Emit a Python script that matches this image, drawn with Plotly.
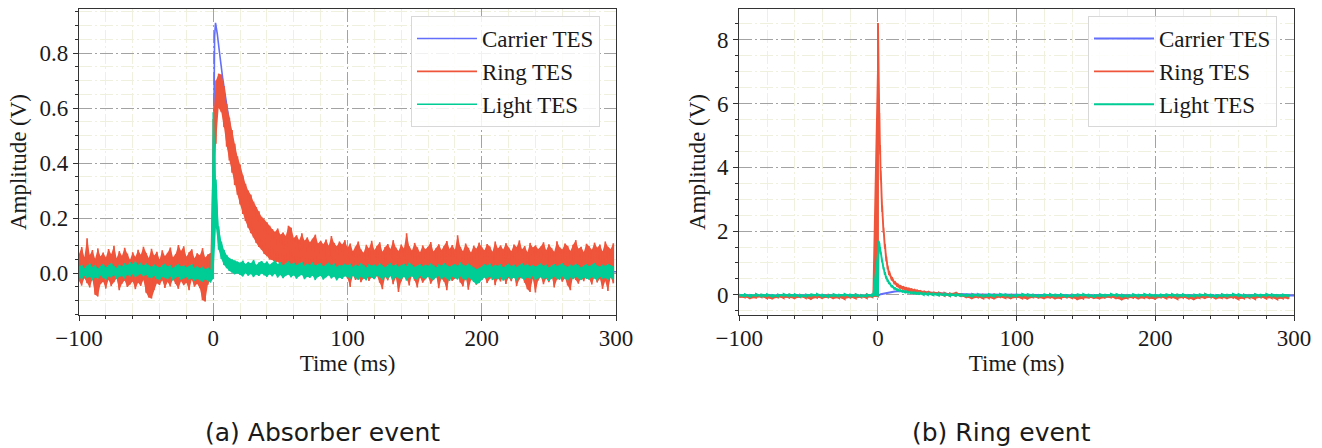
import numpy as np
import plotly.graph_objects as go

# ---------------------------------------------------------------------------
# Pulse traces, stored as per-bin minimum / maximum of the digitised signal.
# Panel (a): absorber event, 2 ms bins from -100 ms to 298 ms, values in mV.
# ---------------------------------------------------------------------------
A_BIN_START, A_BIN_STOP, A_BIN_MS = -100, 300, 2

ring_a_hi_mv = [
    70, 95, 58, 127, 66, 84, 52, 90, 61, 75,
    57, 88, 69, 100, 54, 80, 63, 92, 71, 49,
    76, 59, 85, 67, 96, 72, 55, 89, 64, 78,
    50, 83, 62, 74, 93, 58, 70, 102, 81, 98,
    60, 76, 87, 54, 72, 65, 91, 57, 68, 73,
    560, 700, 725, 722, 680, 615, 565, 520, 470, 425,
    395, 355, 325, 300, 285, 260, 240, 225, 205, 195,
    185, 172, 160, 150, 162, 140, 148, 135, 172, 165,
    128, 138, 120, 145, 118, 130, 112, 125, 140, 108,
    118, 105, 122, 100, 135, 110, 98, 115, 104, 120,
    92, 108, 80, 97, 115, 86, 74, 103, 90, 118,
    84, 99, 112, 78, 95, 106, 88, 120, 93, 81,
    104, 90, 145, 98, 82, 110, 94, 76, 101, 87,
    96, 113, 79, 91, 105, 84, 99, 117, 88, 102,
    85, 138, 96, 80, 108, 92, 75, 100, 89, 111,
    94, 83, 106, 97, 78, 115, 90, 101, 86, 109,
    92, 80, 104, 95, 119, 87, 99, 76, 110, 93,
    101, 88, 97, 112, 83, 105, 91, 78, 116, 94,
    86, 108, 99, 81, 103, 120, 89, 96, 77, 107,
    98, 85, 111, 92, 104, 79, 115, 96, 88, 109,
]
ring_a_lo_mv = [
    -28, -45, -18, -36, -52, -22, -78, -85, -40, -31,
    -56, -24, -47, -33, -19, -62, -38, -27, -50, -41,
    -30, -58, -35, -46, -25, -71, -88, -92, -60, -37,
    -43, -26, -54, -32, -48, -21, -39, -57, -29, -44,
    -35, -62, -24, -49, -38, -55, -98, -103, -42, -20,
    15, 470, 600, 585, 530, 460, 410, 365, 320, 285,
    250, 215, 190, 165, 145, 130, 110, 95, 85, 70,
    62, 50, 48, 38, 42, 30, 28, 22, 35, 25,
    18, 26, 12, 20, 8, 15, 5, 18, 2, 10,
    -5, 8, -12, 4, -8, 0, -15, 6, -10, -3,
    -18, -50, -8, -25, -12, -33, -20, -6, -28, -15,
    -22, -10, -35, -58, -14, -26, -9, -40, -17, -68,
    -30, -12, -20, -45, -8, -27, -52, -16, -35, -22,
    -11, -38, -24, -9, -55, -19, -31, -62, -14, -28,
    -20, -7, -34, -48, -15, -60, -26, -10, -42, -18,
    -25, -13, -36, -21, -8, -44, -17, -30, -11, -39,
    -16, -29, -9, -47, -23, -12, -35, -58, -68, -20,
    -70, -27, -14, -40, -19, -33, -9, -52, -24, -13,
    -31, -18, -45, -62, -11, -25, -38, -16, -29, -8,
    -22, -41, -13, -34, -20, -57, -28, -65, -15, -37,
]
light_a_hi_mv = [
    24, 30, 18, 27, 35, 22, 29, 16, 26, 33,
    21, 28, 37, 25, 19, 31, 24, 36, 28, 40,
    33, 42, 30, 38, 27, 35, 29, 22, 31, 26,
    20, 29, 34, 23, 30, 18, 27, 32, 24, 28,
    21, 26, 33, 19, 25, 17, 23, 14, 20, 12,
    585, 340, 170, 115, 85, 66, 55, 50, 46, 42,
    38, 45, 33, 41, 36, 48, 30, 39, 44, 35,
    42, 31, 37, 46, 33, 40, 28, 36, 43, 32,
    38, 29, 35, 41, 26, 34, 30, 39, 27, 33,
    36, 24, 31, 38, 28, 35, 22, 30, 27, 34,
    28, 34, 22, 31, 25, 36, 29, 20, 33, 27,
    31, 24, 35, 28, 21, 30, 37, 26, 32, 23,
    29, 34, 25, 38, 30, 22, 27, 33, 24, 31,
    26, 35, 29, 21, 32, 27, 36, 30, 23, 28,
    33, 25, 39, 31, 26, 34, 28, 20, 14, 18,
    24, 32, 27, 35, 23, 30, 26, 33, 21, 29,
    34, 25, 31, 22, 28, 36, 27, 32, 24, 30,
    23, 29, 35, 26, 31, 20, 28, 33, 25, 30,
    36, 27, 22, 31, 26, 34, 29, 21, 28, 32,
    25, 30, 37, 27, 23, 31, 26, 33, 28, 24,
]
light_a_lo_mv = [
    -14, -22, -9, -18, -12, -26, -15, -20, -8, -17,
    -24, -11, -16, -7, -21, -13, -10, -19, -5, -12,
    -3, -14, -8, -2, -11, -6, -15, -18, -9, -20,
    -25, -13, -17, -22, -11, -27, -16, -12, -24, -19,
    -14, -23, -18, -28, -20, -26, -31, -22, -29, -34,
    -20, 165, 85, 52, 30, 18, 8, 2, -4, 0,
    -6, -12, 0, -9, -3, -14, -5, -10, -1, -8,
    -13, -4, -11, -2, -16, -7, -18, -9, -5, -15,
    -8, -20, -11, -6, -22, -13, -17, -9, -25, -14,
    -10, -23, -15, -8, -19, -12, -26, -16, -21, -11,
    -14, -20, -9, -17, -24, -12, -18, -26, -11, -15,
    -21, -8, -16, -23, -13, -19, -10, -25, -14, -18,
    -22, -12, -27, -15, -11, -20, -24, -9, -17, -21,
    -13, -18, -25, -16, -10, -22, -14, -19, -28, -12,
    -17, -23, -11, -20, -26, -15, -21, -32, -40, -36,
    -24, -16, -19, -11, -25, -18, -22, -14, -27, -20,
    -13, -21, -17, -26, -12, -19, -23, -15, -20, -10,
    -25, -18, -14, -22, -16, -28, -21, -12, -19, -24,
    -11, -20, -27, -15, -22, -13, -18, -25, -16, -21,
    -23, -14, -19, -26, -12, -20, -17, -24, -15, -22,
]
# Carrier TES is smooth, kept as (time, amplitude) samples.
carrier_a_t = [-100, -60, -20, -1, 0, 0.5, 1, 1.7, 3, 4.7, 7, 10.4, 14, 18.3,
               24, 30, 40, 50, 60, 80, 100, 150, 200, 300]
carrier_a_v = [0.0, 0.0, 0.0, 0.0, 0.25, 0.65, 0.86, 0.91, 0.87, 0.80, 0.71, 0.60,
               0.49, 0.40, 0.28, 0.20, 0.12, 0.075, 0.05, 0.025, 0.015, 0.01, 0.005, 0.005]

# ---------------------------------------------------------------------------
# Panel (b): ring event, 4 ms bins away from the pulse, finer bins on it (V).
# ---------------------------------------------------------------------------
b_pre_t = np.arange(-100, 0, 4)
b_pulse_t = [0, 0.5, 1, 1.5, 2, 3, 4, 5, 6, 7, 8, 10, 12, 14, 16, 18, 20, 22, 24,
             26, 28, 30, 33, 36, 40, 44, 48, 52, 56, 60]
b_tail_t = np.arange(64, 300, 4)

ring_b_lo = [
    -0.10, -0.08, -0.12, -0.09, -0.07, -0.11, -0.13, -0.08, -0.10, -0.09, -0.12, -0.07, -0.10,
    -0.14, -0.09, -0.11, -0.08, -0.12, -0.10, -0.13, -0.09, -0.11, -0.08, -0.10, -0.07,
    -0.05, 6.6, 5.4, 4.4, 3.6, 2.6, 1.95, 1.45, 1.05, 0.8, 0.62, 0.45, 0.33, 0.25, 0.2,
    0.17, 0.14, 0.12, 0.1, 0.08, 0.07, 0.05, 0.04, 0.02, 0.0, -0.02, -0.03, -0.04, -0.02, -0.05,
    -0.09, -0.12, -0.08, -0.11, -0.10, -0.13, -0.07, -0.10, -0.12, -0.09,
    -0.11, -0.14, -0.08, -0.10, -0.12, -0.09, -0.13, -0.11, -0.08, -0.10,
    -0.15, -0.12, -0.09, -0.11, -0.13, -0.10, -0.08, -0.12, -0.16, -0.11,
    -0.09, -0.13, -0.10, -0.12, -0.14, -0.08, -0.11, -0.10, -0.13, -0.09,
    -0.12, -0.15, -0.10, -0.11, -0.08, -0.13, -0.10, -0.12, -0.09, -0.14,
    -0.11, -0.10, -0.13, -0.08, -0.12, -0.10, -0.14, -0.11, -0.12,
]
ring_b_hi = [
    -0.02, 0.01, -0.03, 0.02, -0.01, -0.02, -0.04, 0.00, -0.01, 0.03, -0.02, 0.00, -0.03,
    -0.01, 0.01, -0.02, 0.02, -0.01, -0.03, 0.00, -0.02, 0.01, -0.01, 0.02, 0.00,
    8.52, 6.9, 5.7, 4.7, 3.9, 2.8, 2.1, 1.6, 1.2, 0.92, 0.75, 0.56, 0.43, 0.35, 0.3,
    0.27, 0.24, 0.22, 0.2, 0.18, 0.16, 0.14, 0.12, 0.11, 0.09, 0.07, 0.06, 0.05, 0.08, 0.03,
    -0.01, 0.02, -0.03, 0.00, -0.02, 0.01, -0.04, -0.01, 0.02, -0.02,
    0.00, -0.03, 0.01, -0.01, -0.04, 0.02, -0.02, 0.00, -0.03, 0.01,
    -0.02, -0.05, 0.00, -0.02, 0.01, -0.03, -0.01, 0.02, -0.04, -0.02,
    0.00, -0.03, 0.01, -0.01, -0.04, -0.02, 0.01, -0.03, 0.00, -0.02,
    -0.01, -0.04, 0.00, 0.02, -0.02, -0.03, 0.01, -0.01, -0.04, -0.02,
    0.00, -0.03, 0.01, -0.02, -0.01, -0.04, -0.02, 0.00, -0.03,
]
light_b_lo = [
    -0.05, -0.04, -0.06, -0.03, -0.05, -0.04, -0.06, -0.05, -0.03, -0.05, -0.04, -0.06, -0.05,
    -0.04, -0.03, -0.05, -0.06, -0.04, -0.05, -0.03, -0.05, -0.04, -0.06, -0.05, -0.04,
    -0.03, 1.62, 1.55, 1.42, 1.28, 1.02, 0.80, 0.63, 0.50, 0.41, 0.34, 0.24, 0.17, 0.13, 0.10,
    0.08, 0.06, 0.05, 0.04, 0.03, 0.02, 0.01, 0.0, 0.0, -0.01, -0.02, -0.02, -0.03, -0.03, -0.04,
    -0.04, -0.05, -0.03, -0.06, -0.04, -0.05, -0.03, -0.04, -0.06, -0.05,
    -0.03, -0.04, -0.05, -0.06, -0.04, -0.03, -0.05, -0.04, -0.06, -0.05,
    -0.04, -0.03, -0.05, -0.06, -0.04, -0.05, -0.03, -0.04, -0.05, -0.06,
    -0.04, -0.05, -0.03, -0.04, -0.06, -0.05, -0.04, -0.03, -0.05, -0.04,
    -0.06, -0.05, -0.04, -0.03, -0.05, -0.06, -0.04, -0.05, -0.03, -0.04,
    -0.05, -0.06, -0.04, -0.05, -0.03, -0.04, -0.06, -0.05, -0.04,
]
light_b_hi = [
    0.01, 0.02, 0.00, 0.03, 0.01, 0.02, 0.00, 0.01, 0.03, 0.01, 0.02, 0.00, 0.01,
    0.02, 0.03, 0.01, 0.00, 0.02, 0.01, 0.03, 0.01, 0.02, 0.00, 0.01, 0.02,
    1.55, 1.70, 1.63, 1.50, 1.36, 1.10, 0.88, 0.71, 0.58, 0.48, 0.41, 0.30, 0.23, 0.19, 0.16,
    0.14, 0.12, 0.11, 0.10, 0.09, 0.08, 0.07, 0.06, 0.06, 0.05, 0.04, 0.04, 0.03, 0.03, 0.02,
    0.01, 0.02, 0.03, 0.00, 0.02, 0.01, 0.03, 0.02, 0.00, 0.01,
    0.03, 0.02, 0.01, 0.00, 0.02, 0.03, 0.01, 0.02, 0.00, 0.01,
    0.02, 0.03, 0.01, 0.00, 0.02, 0.01, 0.03, 0.02, 0.01, 0.00,
    0.02, 0.01, 0.03, 0.02, 0.00, 0.01, 0.02, 0.03, 0.01, 0.02,
    0.00, 0.01, 0.02, 0.03, 0.01, 0.00, 0.02, 0.01, 0.03, 0.02,
    0.01, 0.00, 0.02, 0.01, 0.03, 0.02, 0.00, 0.01, 0.02,
]
carrier_b_t = [-100, -50, 0, 2, 4, 6, 8, 10, 12, 14, 17, 20, 25, 30, 40, 50, 70,
               100, 150, 200, 300]
carrier_b_v = [-0.02, -0.02, -0.02, 0.02, 0.04, 0.06, 0.08, 0.095, 0.105, 0.11, 0.115,
               0.11, 0.10, 0.085, 0.06, 0.04, 0.015, -0.005, -0.015, -0.02, -0.02]

# Axis ticks and labels
x_ticks = [-100, 0, 100, 200, 300]
x_ticktext = ["\u2212100", "0", "100", "200", "300"]
ya_ticks = [0.0, 0.2, 0.4, 0.6, 0.8]
ya_ticktext = ["0.0", "0.2", "0.4", "0.6", "0.8"]
yb_ticks = [0, 2, 4, 6, 8]
yb_ticktext = ["0", "2", "4", "6", "8"]

names = ["Carrier TES", "Ring TES", "Light TES"]
colors = ["#636EFA", "#EF553B", "#00CC96"]
captions = ["(a) Absorber event", "(b) Ring event"]


def minmax_path(t, lo, hi):
    """Min/max rendering: a vertical stroke per bin from its minimum to its maximum."""
    t = np.asarray(t, dtype=float)
    x = np.repeat(t, 2)
    y = np.column_stack([np.asarray(lo, float), np.asarray(hi, float)]).ravel()
    return x, y


a_t = np.arange(A_BIN_START, A_BIN_STOP, A_BIN_MS)
b_t = np.concatenate([b_pre_t, np.asarray(b_pulse_t, float), b_tail_t])

ring_a = (a_t, np.array(ring_a_lo_mv) / 1000, np.array(ring_a_hi_mv) / 1000)
light_a = (a_t, np.array(light_a_lo_mv) / 1000, np.array(light_a_hi_mv) / 1000)
ring_b = (b_t, np.asarray(ring_b_lo), np.asarray(ring_b_hi))
light_b = (b_t, np.asarray(light_b_lo), np.asarray(light_b_hi))

fig = go.Figure()


def add_band(t, lo, hi, col, xa, ya, opacity):
    """Shade the min/max envelope so dense noise reads as a solid band."""
    fig.add_trace(go.Scatter(x=t, y=lo, mode="lines", line=dict(width=0, color=col),
                             xaxis=xa, yaxis=ya, showlegend=False, hoverinfo="skip"))
    fig.add_trace(go.Scatter(x=t, y=hi, mode="lines", line=dict(width=0, color=col),
                             fill="tonexty", fillcolor=col, opacity=opacity,
                             xaxis=xa, yaxis=ya, showlegend=False, hoverinfo="skip"))


panels = [
    ("x", "y", "legend", (carrier_a_t, carrier_a_v), [ring_a, light_a], 1.6),
    ("x2", "y2", "legend2", (carrier_b_t, carrier_b_v), [ring_b, light_b], 1.9),
]
for xa, ya, leg, carrier, noisy, lw in panels:
    fig.add_trace(go.Scatter(
        x=carrier[0], y=carrier[1], mode="lines", name=names[0], xaxis=xa, yaxis=ya,
        legend=leg, line=dict(color=colors[0], width=lw), hoverinfo="skip",
    ))
    for (t, lo, hi), name, col in zip(noisy, names[1:], colors[1:]):
        add_band(t, lo, hi, col, xa, ya, 0.8)
        xs, ys = minmax_path(t, lo, hi)
        fig.add_trace(go.Scatter(
            x=xs, y=ys, mode="lines", name=name, xaxis=xa, yaxis=ya, legend=leg,
            line=dict(color=col, width=lw), hoverinfo="skip",
        ))

W, H = 1322, 448
SERIF = "Liberation Serif"
INK = "#1a1a1a"
FRAME = "#333333"
MAJOR_GRID = "#a3a3a3"
MINOR_GRID = "#f0f0df"
DASHDOT = "13px,3px,2px,3px"

y_domain = [1 - 315 / H, 1 - 9 / H]


def x_axis(domain, anchor):
    return dict(
        domain=domain, anchor=anchor, range=[-100, 300], automargin=False,
        tickmode="array", tickvals=x_ticks, ticktext=x_ticktext,
        ticks="outside", ticklen=5, tickwidth=1.2, tickcolor=FRAME,
        ticklabelstandoff=-3,
        showline=True, linecolor=FRAME, linewidth=1.3, mirror=True,
        showgrid=True, gridcolor=MAJOR_GRID, gridwidth=1.3, griddash=DASHDOT,
        zeroline=False,
        minor=dict(tickmode="linear", tick0=0, dtick=20, showgrid=True,
                   gridcolor=MINOR_GRID, gridwidth=1, ticks="outside",
                   ticklen=3, tickcolor=FRAME),
        tickfont=dict(family=SERIF, size=23, color=INK),
        title=dict(text="Time (ms)", font=dict(family=SERIF, size=23, color=INK), standoff=2),
    )


def y_axis(rng, tickvals, ticktext, minor_step, anchor, standoff):
    return dict(
        domain=y_domain, anchor=anchor, range=rng, automargin=False,
        tickmode="array", tickvals=tickvals, ticktext=ticktext,
        ticks="outside", ticklen=5, tickwidth=1.2, tickcolor=FRAME,
        showline=True, linecolor=FRAME, linewidth=1.3, mirror=True,
        showgrid=True, gridcolor=MAJOR_GRID, gridwidth=1.3, griddash=DASHDOT,
        zeroline=False,
        minor=dict(tickmode="linear", tick0=0, dtick=minor_step, showgrid=True,
                   gridcolor=MINOR_GRID, gridwidth=1, ticks="outside",
                   ticklen=3, tickcolor=FRAME),
        tickfont=dict(family=SERIF, size=23, color=INK),
        title=dict(text="Amplitude (V)", font=dict(family=SERIF, size=23, color=INK),
                   standoff=standoff),
    )


legend_style = dict(
    font=dict(family=SERIF, size=23, color=INK),
    bgcolor="rgba(255,255,255,0.85)", bordercolor="#d8d8d8", borderwidth=1,
    xanchor="right", yanchor="top", y=1 - 16 / H, tracegroupgap=0,
    traceorder="normal", itemwidth=60,
)

fig.update_layout(
    width=W, height=H, autosize=False,
    margin=dict(l=0, r=0, t=0, b=0, pad=0, autoexpand=False),
    paper_bgcolor="white", plot_bgcolor="white",
    showlegend=True,
    xaxis=x_axis([79 / W, 616 / W], "y"),
    yaxis=y_axis([-0.152, 0.96], ya_ticks, ya_ticktext, 0.05, "x", 6),
    xaxis2=x_axis([739.3 / W, 1294 / W], "y2"),
    yaxis2=y_axis([-0.63, 8.96], yb_ticks, yb_ticktext, 0.5, "x2", 4),
    legend=dict(x=600 / W, **legend_style),
    legend2=dict(x=1277 / W, **legend_style),
    annotations=[
        dict(text=captions[0], x=322 / W, y=1 - 432 / H, xref="paper", yref="paper",
             showarrow=False, xanchor="center", yanchor="middle",
             font=dict(family="DejaVu Sans", size=25, color=INK)),
        dict(text=captions[1], x=1001 / W, y=1 - 432 / H, xref="paper", yref="paper",
             showarrow=False, xanchor="center", yanchor="middle",
             font=dict(family="DejaVu Sans", size=25, color=INK)),
    ],
)

fig.write_html("out.html")
